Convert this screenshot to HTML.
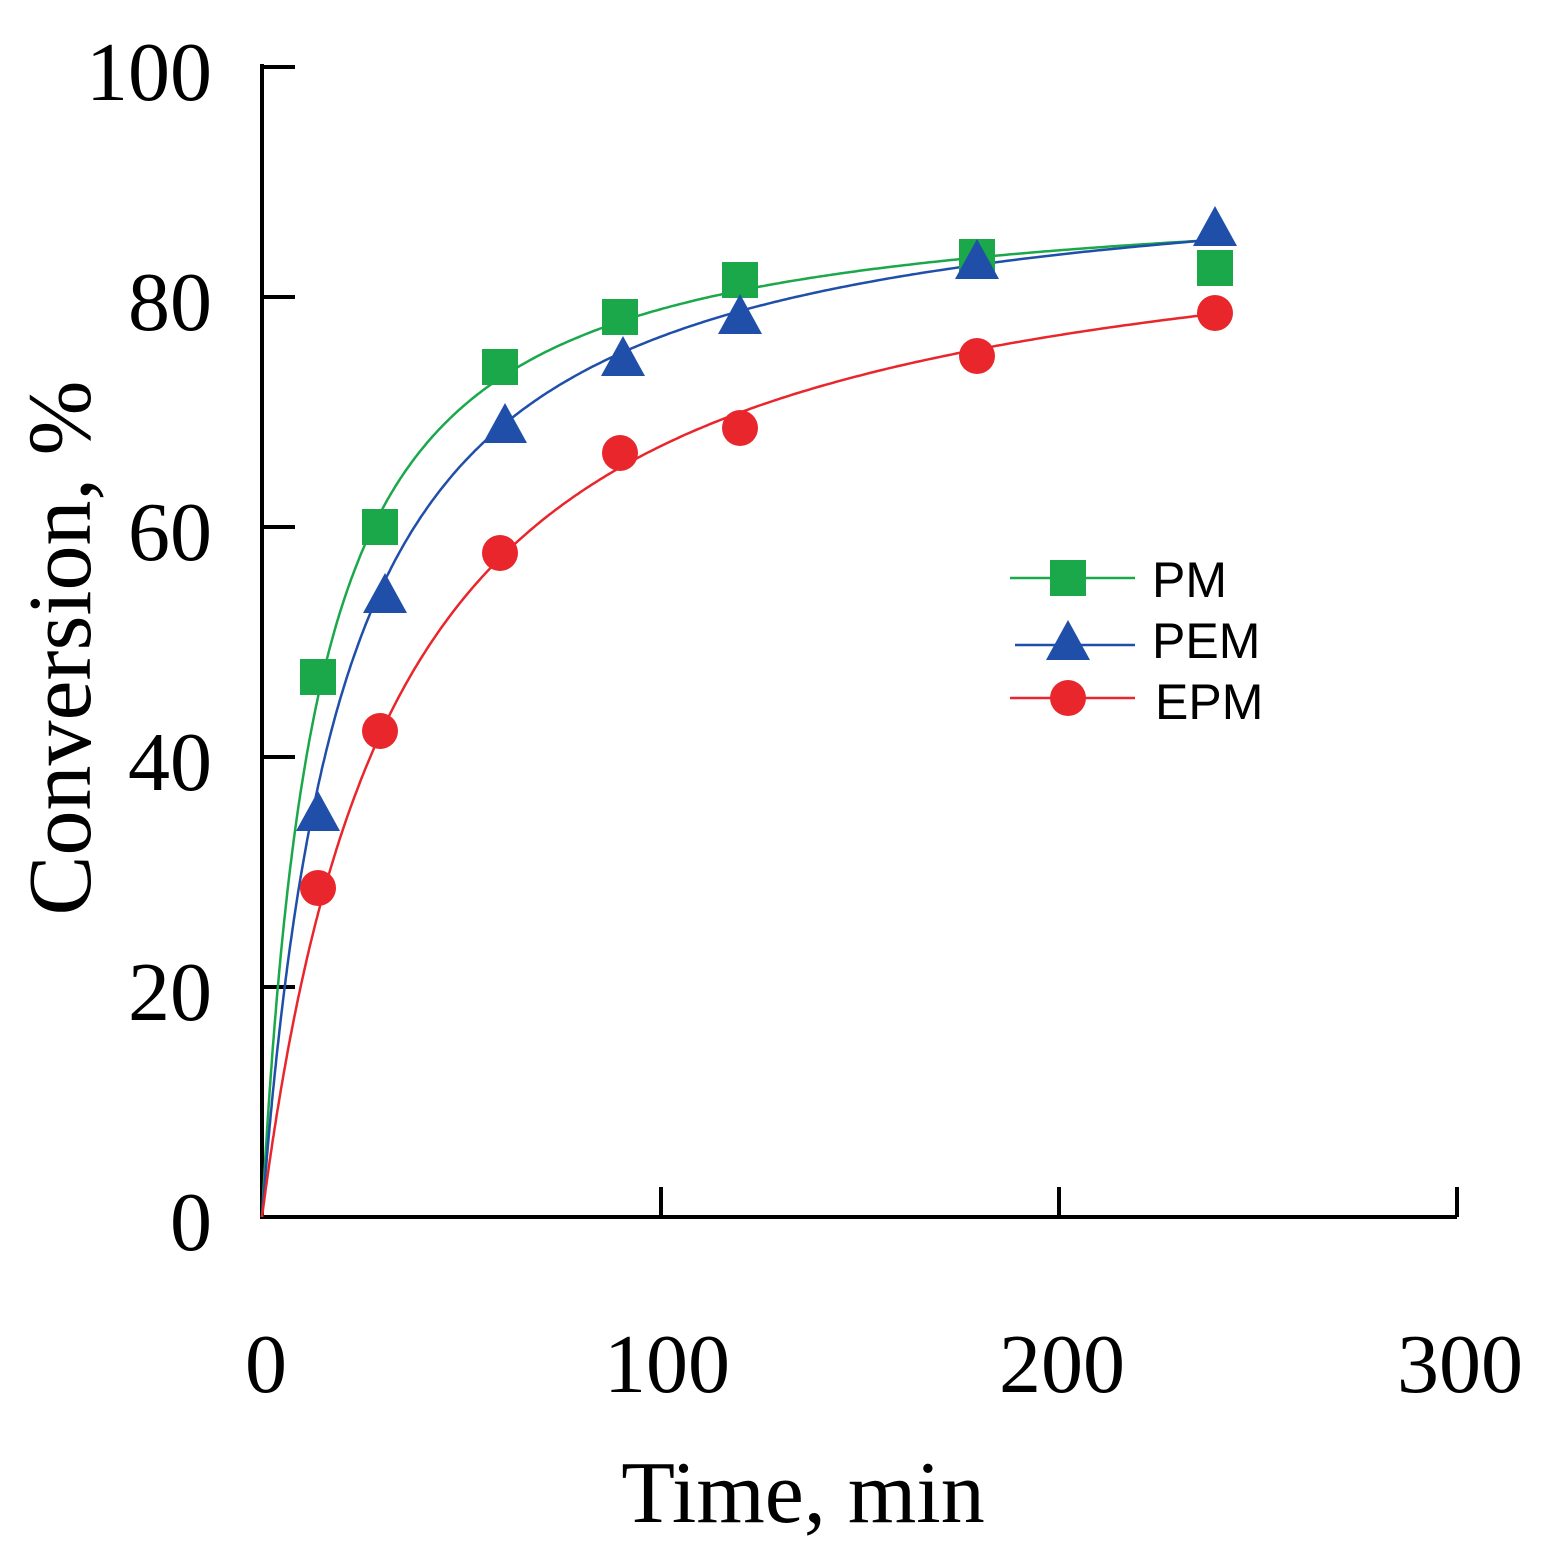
<!DOCTYPE html>
<html><head><meta charset="utf-8"><style>body{margin:0;background:#fff}svg{display:block}</style></head>
<body>
<svg id="s" width="1542" height="1562" viewBox="0 0 1542 1562" xmlns="http://www.w3.org/2000/svg">
<g stroke="#000" stroke-width="4" fill="none">
<path d="M262,64 V1217 H1457"/>
<path d="M262,67 H295 M262,297 H295 M262,527 H295 M262,757 H295 M262,987 H295"/>
<path d="M661,1217 V1187 M1059,1217 V1187 M1457,1217 V1187"/>
</g>
<g font-family="Liberation Serif, serif" font-size="84" fill="#000" text-anchor="end">
<text x="212" y="100">100</text><text x="212" y="330">80</text><text x="212" y="560">60</text>
<text x="212" y="790">40</text><text x="212" y="1020">20</text><text x="212" y="1250">0</text>
</g>
<g font-family="Liberation Serif, serif" font-size="84" fill="#000" text-anchor="middle">
<text x="266" y="1392">0</text><text x="667" y="1392">100</text><text x="1062" y="1392">200</text><text x="1460" y="1392">300</text>
<text x="803" y="1522" font-size="88">Time, min</text>
<text transform="translate(90,648) rotate(-90)" font-size="90">Conversion, %</text>
</g>
<g id="curves" fill="none" stroke-width="2.5"></g>
<g id="marks"></g>
<g font-family="Liberation Sans, sans-serif" font-size="50" fill="#000">
<line x1="1010" y1="578" x2="1135" y2="578" stroke="#1aa84a" stroke-width="2.5"/>
<rect x="1050" y="560" width="36" height="36" fill="#1aa84a"/>
<text x="1152" y="597">PM</text>
<line x1="1015" y1="645" x2="1135" y2="645" stroke="#1f4fa8" stroke-width="2.5"/>
<polygon points="1068,620 1090,660 1046,660" fill="#1f4fa8"/>
<text x="1152" y="658">PEM</text>
<line x1="1010" y1="698" x2="1135" y2="698" stroke="#e8262b" stroke-width="2.5"/>
<circle cx="1068" cy="698" r="18" fill="#e8262b"/>
<text x="1155" y="719">EPM</text>
</g>
</svg>
<script>
var X=t=>262+t*3.983,Y=v=>1217-v*11.5;
var c=document.getElementById('curves'),m=document.getElementById('marks');
var ns='http://www.w3.org/2000/svg';
[[89.9,13.9,'#1aa84a'],[92.3,20.6,'#1f4fa8'],[89.6,33.7,'#e8262b']].forEach(function(p){
 var d='';for(var i=0;i<=400;i++){var t=240*Math.pow(i/400,2);d+=(i?'L':'M')+X(t).toFixed(1)+','+Y(p[0]*t/(p[1]+t)).toFixed(1);}
 var e=document.createElementNS(ns,'path');e.setAttribute('d',d);e.setAttribute('stroke',p[2]);c.appendChild(e);});
var pm=[[318,677],[380,527],[500,367],[620,317],[740,280],[977,257],[1215,268]];
var pem=[[318,815],[385,597],[505,427],[623,360],[740,318],[977,263],[1215,230]];
var epm=[[318,888],[380,731],[500,553],[620,453],[740,428],[977,356],[1215,313]];
var h='';
pm.forEach(p=>h+='<rect x="'+(p[0]-18)+'" y="'+(p[1]-18)+'" width="36" height="36" fill="#1aa84a"/>');
pem.forEach(p=>h+='<polygon points="'+p[0]+','+(p[1]-24)+' '+(p[0]+22)+','+(p[1]+16)+' '+(p[0]-22)+','+(p[1]+16)+'" fill="#1f4fa8"/>');
epm.forEach(p=>h+='<circle cx="'+p[0]+'" cy="'+p[1]+'" r="18" fill="#e8262b"/>');
m.innerHTML=h;
</script>
</body></html>
